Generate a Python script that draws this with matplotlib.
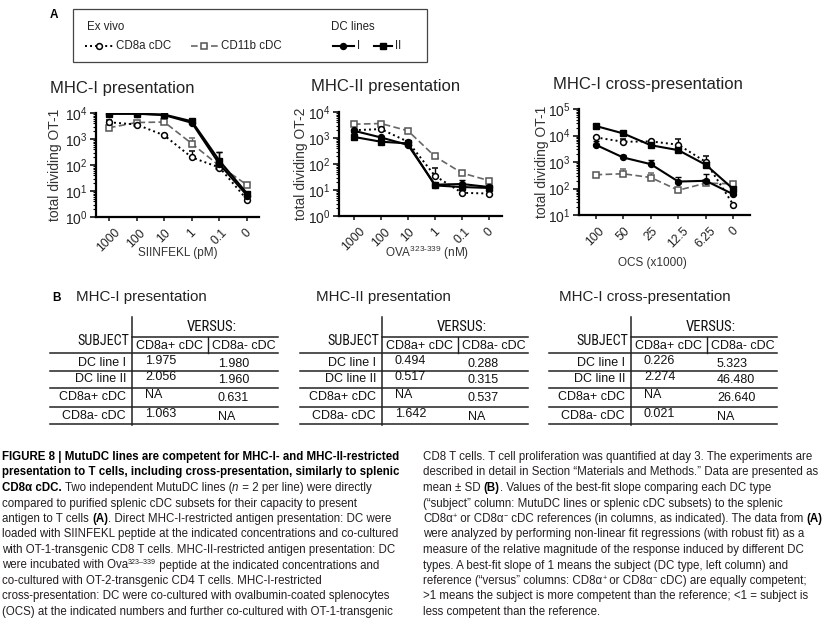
import numpy as np
import matplotlib
matplotlib.use('Agg')
import matplotlib.pyplot as plt
from matplotlib.ticker import LogLocator, NullFormatter

plt.rcParams['font.family'] = ['Liberation Sans', 'DejaVu Sans']
plt.rcParams['mathtext.fontset'] = 'custom'
plt.rcParams['mathtext.rm'] = 'Liberation Sans'
plt.rcParams['mathtext.it'] = 'Liberation Sans:italic'
plt.rcParams['mathtext.bf'] = 'Liberation Sans:bold'

# ---- panel A data ----
mhc1_doses = ['1000', '100', '10', '1', '0.1', '0']
mhc1_line1 = [9400, 9400, 8300, 4200, 107, 6.7]
mhc1_line2 = [9400, 9400, 8700, 4800, 145, 8]
mhc1_cd8 = [4400, 3600, 1380, 195, 80, 4.6]
mhc1_cd11b = [2700, 4300, 4500, 660, 93, 17]
mhc1_err_line1 = [0, 0, 800, 600, 200, 1]
mhc1_err_line2 = [0, 0, 0, 500, 170, 1]
mhc1_err_cd8 = [1200, 0, 0, 150, 0, 0]
mhc1_err_cd11b = [0, 0, 0, 400, 0, 2]

mhc2_doses = ['1000', '100', '10', '1', '0.1', '0']
mhc2_line1 = [1900, 1050, 540, 16, 17, 13]
mhc2_line2 = [1100, 720, 620, 15, 13, 12]
mhc2_cd8 = [2000, 2200, 720, 35, 7.8, 7.3]
mhc2_cd11b = [3400, 3600, 1900, 195, 45, 23]
mhc2_err_line1 = [0, 0, 0, 0, 8, 0]
mhc2_err_line2 = [0, 250, 0, 0, 0, 3]
mhc2_err_cd8 = [0, 0, 0, 35, 0, 0]
mhc2_err_cd11b = [0, 0, 0, 0, 0, 0]

ocs_numbers = ['100', '50', '25', '12.5', '6.25', '0']
ocs_line1 = [4500, 1480, 830, 183, 195, 60]
ocs_line2 = [23000, 12000, 4300, 2800, 780, 94]
ocs_cd8 = [8500, 5800, 6000, 4500, 1000, 24]
ocs_cd11b = [330, 360, 260, 86, 160, 150]
ocs_err_line1 = [1500, 300, 400, 80, 150, 0]
ocs_err_line2 = [0, 0, 0, 0, 0, 0]
ocs_err_cd8 = [0, 1500, 0, 3000, 700, 0]
ocs_err_cd11b = [0, 200, 120, 0, 0, 0]

# ---- panel B data ----
table_titles = ['MHC-I presentation', 'MHC-II presentation', 'MHC-I cross-presentation']
subjects = ['DC line I', 'DC line II', 'CD8a+ cDC', 'CD8a- cDC']
references = ['CD8a+ cDC', 'CD8a- cDC']
mhc1_vs_cd8 = ['1.975', '2.056', 'NA', '1.063']
mhc1_vs_cd11b = ['1.980', '1.960', '0.631', 'NA']
mhc2_vs_cd8 = ['0.494', '0.517', 'NA', '1.642']
mhc2_vs_cd11b = ['0.288', '0.315', '0.537', 'NA']
ocs_vs_cd8 = ['0.226', '2.274', 'NA', '0.021']
ocs_vs_cd11b = ['5.323', '46.480', '26.640', 'NA']

W, H = 829, 625
fig = plt.figure(figsize=(W / 100, H / 100), dpi=100)
ov = fig.add_axes([0, 0, 1, 1])
ov.set_xlim(0, W)
ov.set_ylim(H, 0)
ov.axis('off')

styles = {
    'cd8': dict(color='black', ls=(0, (1, 1.6)), lw=1.4, marker='o', mfc='white', mec='black', ms=4.2, mew=1.1),
    'cd11b': dict(color='#666666', ls=(0, (4, 2)), lw=1.2, marker='s', mfc='white', mec='#555555', ms=4.2, mew=1.1),
    'line1': dict(color='black', ls='-', lw=1.5, marker='o', mfc='black', mec='black', ms=4.3),
    'line2': dict(color='black', ls='-', lw=1.5, marker='s', mfc='black', mec='black', ms=4.5),
}


def px_axes(x0, x1, y0, y1):
    return fig.add_axes([x0 / W, 1 - y1 / H, (x1 - x0) / W, (y1 - y0) / H])


def draw_panel(ax, doses, series, errs, ylim, xlim, xlabel, ylabel, xlab_pos, ylab_pos):
    x = np.arange(len(doses))
    for key in ['cd11b', 'cd8', 'line1', 'line2']:
        st = styles[key]
        ax.errorbar(x, series[key], yerr=[np.zeros(len(x)), errs[key]],
                    ecolor=st['color'], elinewidth=1.0, capsize=2.5, capthick=1.0, **st)
    ax.set_yscale('log')
    ax.set_ylim(*ylim)
    ax.set_xlim(*xlim)
    ax.yaxis.set_major_locator(LogLocator(base=10, numticks=10))
    ax.yaxis.set_minor_locator(LogLocator(base=10, subs=np.arange(2, 10), numticks=10))
    ax.yaxis.set_minor_formatter(NullFormatter())
    ax.set_xticks(x)
    ax.set_xticklabels(doses, rotation=45, ha='center', va='top')
    for s in ['top', 'right']:
        ax.spines[s].set_visible(False)
    for s in ['left', 'bottom']:
        ax.spines[s].set_linewidth(1.6)
    ax.tick_params(axis='y', which='major', length=4, width=1.3, labelsize=10, colors='#222222', pad=2)
    ax.tick_params(axis='y', which='minor', length=2.5, width=0.8)
    ax.tick_params(axis='x', length=3, width=1.2, labelsize=8.8, colors='#222222', pad=4)
    ax.set_xlabel(xlabel, fontsize=8.5, color='#333333', va='center')
    ax.set_ylabel(ylabel, fontsize=10, color='#333333', va='center')
    ax.xaxis.set_label_coords(*xlab_pos)
    ax.yaxis.set_label_coords(*ylab_pos)


ax1 = px_axes(96, 259, 113, 217)
draw_panel(ax1, mhc1_doses,
           dict(line1=mhc1_line1, line2=mhc1_line2, cd8=mhc1_cd8, cd11b=mhc1_cd11b),
           dict(line1=mhc1_err_line1, line2=mhc1_err_line2, cd8=mhc1_err_cd8, cd11b=mhc1_err_cd11b),
           (1, 1e4), (-0.47, 5.43), 'SIINFEKL (pM)', 'total dividing OT-1',
           (0.5, -0.346), (-0.252, 0.5))

ax2 = px_axes(339, 502, 112, 216)
draw_panel(ax2, mhc2_doses,
           dict(line1=mhc2_line1, line2=mhc2_line2, cd8=mhc2_cd8, cd11b=mhc2_cd11b),
           dict(line1=mhc2_err_line1, line2=mhc2_err_line2, cd8=mhc2_err_cd8, cd11b=mhc2_err_cd11b),
           (1, 1e4), (-0.55, 5.48), r'OVA$^{323\text{-}339}$ (nM)', 'total dividing OT-2',
           (0.54, -0.356), (-0.235, 0.5))

ax3 = px_axes(579, 750, 109, 215)
draw_panel(ax3, ocs_numbers,
           dict(line1=ocs_line1, line2=ocs_line2, cd8=ocs_cd8, cd11b=ocs_cd11b),
           dict(line1=ocs_err_line1, line2=ocs_err_line2, cd8=ocs_err_cd8, cd11b=ocs_err_cd11b),
           (10, 1e5), (-0.6, 5.6), 'OCS (x1000)', 'total dividing OT-1',
           (0.43, -0.453), (-0.216, 0.5))

ov.text(50, 88, 'MHC-I presentation', fontsize=12, color='#222222', va='center')
ov.text(311, 87, 'MHC-II presentation', fontsize=12, color='#222222', va='center')
ov.text(553, 85, 'MHC-I cross-presentation', fontsize=12, color='#222222', va='center')

# ---- legend box ----
ov.text(50, 15, 'A', fontsize=8.5, fontweight='bold', va='center')
ov.add_patch(plt.Rectangle((73, 9), 354, 53, fill=False, lw=0.9, ec='#444444'))
ov.text(87, 27, 'Ex vivo', fontsize=8.3, color='#222222', va='center')
ov.text(331, 27, 'DC lines', fontsize=8.3, color='#222222', va='center')
leg_items = [('cd8', 85, 113, 'CD8a cDC'), ('cd11b', 191, 218, 'CD11b cDC'),
             ('line1', 333, 354, 'I'), ('line2', 374, 392, 'II')]
for key, xa, xb, lab in leg_items:
    st = dict(styles[key])
    ov.plot([xa, (xa + xb) / 2, xb], [46, 46, 46], markevery=[1], **st)
    ov.text(xb + 3, 46, lab, fontsize=8.3, color='#222222', va='center')

# ---- panel B tables ----
ov.text(52, 298, 'B', fontsize=8.5, fontweight='bold', va='center')
tab_font = ['Roboto Condensed', 'Liberation Sans Narrow', 'DejaVu Sans Condensed', 'Liberation Sans']
table_vx = [132, 382, 631]
table_title_x = [76, 316, 559]
table_cols = [(mhc1_vs_cd8, mhc1_vs_cd11b), (mhc2_vs_cd8, mhc2_vs_cd11b), (ocs_vs_cd8, ocs_vs_cd11b)]
row_y = [363, 379, 397, 416]
row_lines = [371, 388, 407, 424]
for vx, tx, title, (c1, c2) in zip(table_vx, table_title_x, table_titles, table_cols):
    ov.text(tx, 297, title, fontsize=10.9, color='#222222', va='center')
    ov.plot([vx, vx], [317, 425], color='#222222', lw=1.1)
    ov.plot([vx, vx + 146], [337, 337], color='#222222', lw=1.1)
    ov.plot([vx + 76, vx + 76], [337, 353], color='#222222', lw=1.0)
    ov.plot([vx - 82, vx + 146], [353, 353], color='#222222', lw=1.1)
    for yl in row_lines:
        ov.plot([vx - 82, vx + 146], [yl, yl], color='#222222', lw=1.1)
    ov.text(vx + 80, 327, 'VERSUS:', fontsize=10.6, family=tab_font, ha='center', va='center', color='#111111')
    ov.text(vx - 29, 341, 'SUBJECT', fontsize=10.2, family=tab_font, ha='center', va='center', color='#111111')
    ov.text(vx + 4, 346, references[0], fontsize=9, ha='left', va='center', color='#111111')
    ov.text(vx + 80, 346, references[1], fontsize=9, ha='left', va='center', color='#111111')
    for yy, subj, v1, v2 in zip(row_y, subjects, c1, c2):
        ov.text(vx - 6, yy, subj, fontsize=9, ha='right', va='center', color='#111111')
        ov.text(vx + 13, yy - 2, v1, fontsize=9, ha='left', va='center', color='#111111')
        ov.text(vx + 86, yy + 1, v2, fontsize=9, ha='left', va='center', color='#111111')

# ---- caption ----
caption_left = [
    [('FIGURE 8 | MutuDC lines are competent for MHC-I- and MHC-II-restricted', 'b')],
    [('presentation to T cells, including cross-presentation, similarly to splenic', 'b')],
    [('CD8\u03b1 cDC.', 'b'), (' Two independent MutuDC lines (', 'n'), ('n', 'i'), (' = 2 per line) were directly', 'n')],
    [('compared to purified splenic cDC subsets for their capacity to present', 'n')],
    [('antigen to T cells ', 'n'), ('(A)', 'b'), ('. Direct MHC-I-restricted antigen presentation: DC were', 'n')],
    [('loaded with SIINFEKL peptide at the indicated concentrations and co-cultured', 'n')],
    [('with OT-1-transgenic CD8 T cells. MHC-II-restricted antigen presentation: DC', 'n')],
    [('were incubated with Ova', 'n'), ('323\u2013339', 's'), (' peptide at the indicated concentrations and', 'n')],
    [('co-cultured with OT-2-transgenic CD4 T cells. MHC-I-restricted', 'n')],
    [('cross-presentation: DC were co-cultured with ovalbumin-coated splenocytes', 'n')],
    [('(OCS) at the indicated numbers and further co-cultured with OT-1-transgenic', 'n')],
]
caption_right = [
    [('CD8 T cells. T cell proliferation was quantified at day 3. The experiments are', 'n')],
    [('described in detail in Section \u201cMaterials and Methods.\u201d Data are presented as', 'n')],
    [('mean \u00b1 SD ', 'n'), ('(B)', 'b'), ('. Values of the best-fit slope comparing each DC type', 'n')],
    [('(\u201csubject\u201d column: MutuDC lines or splenic cDC subsets) to the splenic', 'n')],
    [('CD8\u03b1', 'n'), ('+', 's'), (' or CD8\u03b1', 'n'), ('\u2212', 's'),
     (' cDC references (in columns, as indicated). The data from ', 'n'), ('(A)', 'b')],
    [('were analyzed by performing non-linear fit regressions (with robust fit) as a', 'n')],
    [('measure of the relative magnitude of the response induced by different DC', 'n')],
    [('types. A best-fit slope of 1 means the subject (DC type, left column) and', 'n')],
    [('reference (\u201cversus\u201d columns: CD8\u03b1', 'n'), ('+', 's'), (' or CD8\u03b1', 'n'), ('\u2212', 's'),
     (' cDC) are equally competent;', 'n')],
    [('>1 means the subject is more competent than the reference; <1 = subject is', 'n')],
    [('less competent than the reference.', 'n')],
]

R = fig.canvas.get_renderer()
CAP = 8.3


def cap_kw(st):
    kw = dict(fontsize=CAP, color='#231f20', va='baseline', ha='left')
    if st == 'b':
        kw['fontweight'] = 'bold'
        kw['color'] = 'black'
    if st == 'i':
        kw['fontstyle'] = 'italic'
    if st == 's':
        kw['fontsize'] = CAP * 0.62
    return kw


def ext(s, kw):
    t = ov.text(0, 100, s, **kw)
    w = t.get_window_extent(R).width
    t.remove()
    return w


def rich_line(x, y, parts):
    for txt, st in parts:
        kw = cap_kw(st)
        dy = -4 if st == 's' else 0
        ov.text(x, y + dy, txt, **kw)
        x += ext('|' + txt + '|', kw) - ext('||', kw)


for i, parts in enumerate(caption_left):
    rich_line(2, 460 + 15.5 * i, parts)
for i, parts in enumerate(caption_right):
    rich_line(423, 460 + 15.5 * i, parts)

fig.savefig('out.png', dpi=100)
